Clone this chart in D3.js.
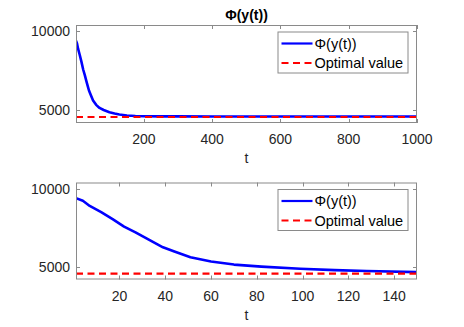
<!DOCTYPE html>
<html><head><meta charset="utf-8">
<script src="https://cdn.jsdelivr.net/npm/d3@7"></script>
<style>
html,body{margin:0;padding:0;background:#fff;}
svg{display:block;font-family:"Liberation Sans",Arial,sans-serif;}
</style></head>
<body><svg id="c" width="464" height="327"></svg>
<script>
// ---- data ----
const tVals   = [1, 4, 7, 12, 17, 22, 27, 31, 35, 39, 44, 51, 60, 70, 82, 99, 114, 128, 150, 175, 200, 250, 300, 400, 600, 800, 1000];
const phiVals = [9400, 9230, 8900, 8500, 8060, 7580, 7210, 6880, 6560, 6250, 5980, 5620, 5340, 5145, 5015, 4875, 4790, 4730, 4665, 4635, 4620, 4612, 4608, 4605, 4603, 4602, 4602];
const optimalValue = 4570;
const yTicks = [5000, 10000];
const xTicksTop = [200, 400, 600, 800, 1000];
const xTicksBottom = [20, 40, 60, 80, 100, 120, 140];
const legendLabels = ["\u03A6(y(t))", "Optimal value"];
const titleText = "\u03A6(y(t))";
const xLabel = "t";

const series = tVals.map((t, i) => ({t, v: phiVals[i]}));
const svg = d3.select("#c");
const axisCol = "#8a8a8a", textCol = "#262626";

function panel(cfg) {
  const {x0, x1, y0, y1, xDomain, xTicks, id, title} = cfg;
  const x = d3.scaleLinear().domain(xDomain).range([x0, x1]);
  const y = d3.scaleLinear().domain([4190, 10400]).range([y1, y0]);
  const g = svg.append("g");
  g.append("clipPath").attr("id", id).append("rect")
    .attr("x", x0).attr("y", y0).attr("width", x1 - x0).attr("height", y1 - y0);
  g.append("rect").attr("x", x0).attr("y", y0).attr("width", x1 - x0).attr("height", y1 - y0)
    .attr("fill", "#fff");
  const tl = 4;
  xTicks.forEach(t => {
    const px = Math.round(x(t)) + 0.5;
    g.append("line").attr("x1", px).attr("x2", px).attr("y1", y1).attr("y2", y1 - tl).attr("stroke", axisCol);
    g.append("line").attr("x1", px).attr("x2", px).attr("y1", y0).attr("y2", y0 + tl).attr("stroke", axisCol);
    g.append("text").attr("x", x(t)).attr("y", y1 + 21).attr("text-anchor", "middle")
      .attr("font-size", 14).attr("fill", textCol).text(t);
  });
  yTicks.forEach(v => {
    const py = Math.round(y(v)) + 0.5;
    g.append("line").attr("x1", x0).attr("x2", x0 + tl).attr("y1", py).attr("y2", py).attr("stroke", axisCol);
    g.append("line").attr("x1", x1).attr("x2", x1 - tl).attr("y1", py).attr("y2", py).attr("stroke", axisCol);
    g.append("text").attr("x", x0 - 6).attr("y", y(v) + 5).attr("text-anchor", "end")
      .attr("font-size", 14).attr("fill", textCol).text(v);
  });
  const plot = g.append("g").attr("clip-path", `url(#${id})`);
  const line = d3.line().x(d => x(d.t)).y(d => y(d.v));
  plot.append("path").datum(series).attr("d", line).attr("fill", "none")
    .attr("stroke", "#0000ff").attr("stroke-width", 2.6).attr("stroke-linejoin", "round");
  plot.append("line").attr("x1", x(xDomain[0])).attr("x2", x(xDomain[1]))
    .attr("y1", y(optimalValue)).attr("y2", y(optimalValue))
    .attr("stroke", "#ff0000").attr("stroke-width", 2.2).attr("stroke-dasharray", "7,4.5");
  g.append("rect").attr("x", x0 + 0.5).attr("y", y0 + 0.5).attr("width", x1 - x0 - 1).attr("height", y1 - y0 - 1)
    .attr("fill", "none").attr("stroke", axisCol);
  g.append("text").attr("x", (x0 + x1) / 2).attr("y", y1 + 40).attr("text-anchor", "middle")
    .attr("font-size", 14).attr("fill", textCol).text(xLabel);
  if (title) {
    g.append("text").attr("x", (x0 + x1) / 2).attr("y", y0 - 5).attr("text-anchor", "middle")
      .attr("font-size", 14).attr("font-weight", "bold").attr("fill", "#000").text(title);
  }
  const lx = 277.5, ly = y0 + 6.5, lw = 130, lh = 41;
  g.append("rect").attr("x", lx + 0.5).attr("y", ly + 0.5).attr("width", lw).attr("height", lh)
    .attr("fill", "#fff").attr("stroke", axisCol);
  const rows = [{c: "#0000ff", dash: null, w: 2.2}, {c: "#ff0000", dash: "7,4.5", w: 2.2}];
  rows.forEach((r, i) => {
    const ry = ly + 12 + i * 19.5;
    const ln = g.append("line").attr("x1", lx + 4).attr("x2", lx + 35).attr("y1", ry).attr("y2", ry)
      .attr("stroke", r.c).attr("stroke-width", r.w);
    if (r.dash) ln.attr("stroke-dasharray", r.dash);
    g.append("text").attr("x", lx + 37).attr("y", ry + 5).attr("font-size", 14.5)
      .attr("fill", "#000").text(legendLabels[i]);
  });
}

panel({id: "clipTop", x0: 76, x1: 417, y0: 25, y1: 123, xDomain: [1, 1000], xTicks: xTicksTop, title: titleText});
panel({id: "clipBot", x0: 76, x1: 417, y0: 182.5, y1: 279.5, xDomain: [1, 150], xTicks: xTicksBottom, title: null});
</script></body></html>
